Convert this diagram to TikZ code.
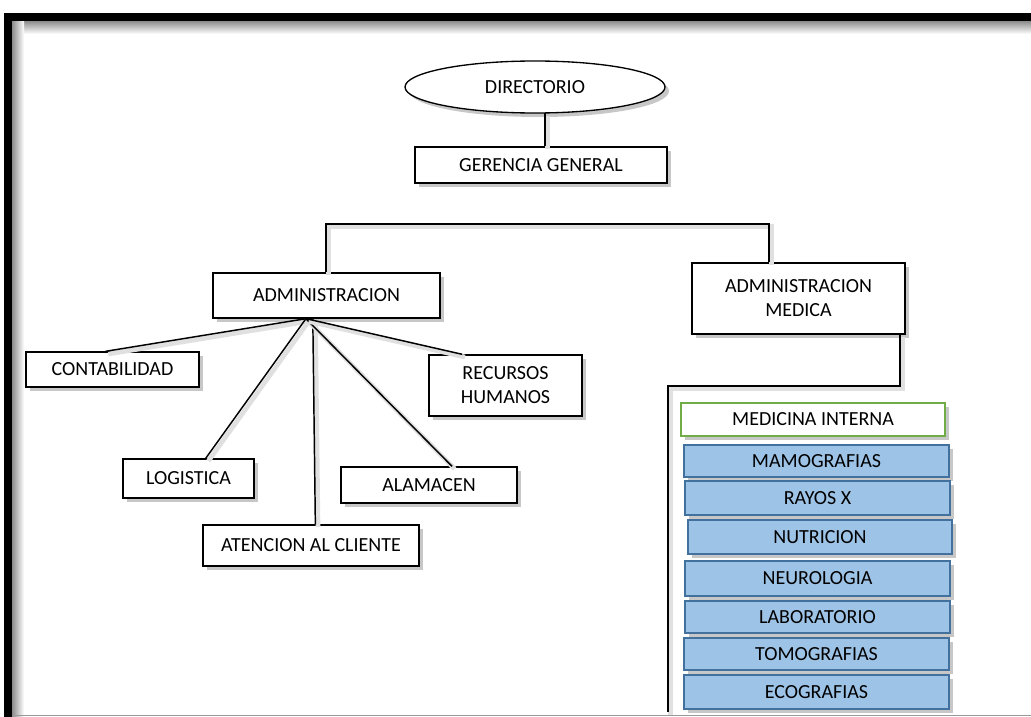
\documentclass[tikz,border=0pt]{standalone}
\usepackage{fontspec}
\setmainfont{Carlito}
\usetikzlibrary{shapes.geometric,shadows,calc}
\definecolor{boxblue}{RGB}{157,195,230}
\definecolor{boxblueline}{RGB}{65,113,156}
\definecolor{boxgreen}{RGB}{112,173,71}
\tikzset{
  bx/.style={draw=black, line width=1pt, fill=white, inner sep=0pt, align=center,
    font=\fontsize{15}{18}\selectfont,
    drop shadow={shadow xshift=3pt, shadow yshift=-3pt, fill=black, opacity=0.22}},
  bluebx/.style={bx, fill=boxblue, draw=boxblueline},
  greenbx/.style={bx, draw=boxgreen},
  conn/.style={line width=1.1pt,
    preaction={draw=black!12, line width=3.5pt, transform canvas={shift={(2pt,-2pt)}}}}
}
\begin{document}
\begin{tikzpicture}[x=0.75pt, y=-0.75pt]
\useasboundingbox (0,0) rectangle (1031,717);
% frame
\shade[top color=black!45, bottom color=white] (12,21) rectangle (1031,34);
\shade[left color=black!45, right color=white] (12,21) rectangle (24,717);
\fill[black] (4,13) rectangle (1031,21);
\fill[black] (4,13) rectangle (12,717);
\draw[black!40, line width=1.2pt] (12,715.5) -- (1031,715.5);

% nodes
\node[bx, ellipse, minimum width=195pt, minimum height=39pt] (dir) at (535,87) {DIRECTORIO};
\node[bx, minimum width=189pt, minimum height=27pt] (ger) at (541,165) {GERENCIA GENERAL};
\node[bx, minimum width=170.25pt, minimum height=33.75pt] (adm) at (326.5,295.5) {ADMINISTRACION};
\node[bx, minimum width=159.75pt, minimum height=53.25pt] (med) at (798.5,298.5) {ADMINISTRACION\\MEDICA};
\node[bx, minimum width=129.75pt, minimum height=26.25pt] (cont) at (112.5,369.5) {CONTABILIDAD};
\node[bx, minimum width=114.75pt, minimum height=45.75pt] (rrhh) at (505.5,385.5) {RECURSOS\\HUMANOS};
\node[bx, minimum width=98.25pt, minimum height=29.25pt] (log) at (188.5,478.5) {LOGISTICA};
\node[bx, minimum width=132pt, minimum height=27pt] (alm) at (429,485) {ALAMACEN};
\node[bx, minimum width=162pt, minimum height=30.75pt] (ate) at (311,545.5) {ATENCION AL CLIENTE};

\node[greenbx, minimum width=198pt, minimum height=24.75pt] (mi) at (813,419.5) {MEDICINA INTERNA};
\node[bluebx, minimum width=198.75pt, minimum height=24pt] (mam) at (816.5,461) {MAMOGRAFIAS};
\node[bluebx, minimum width=198.75pt, minimum height=25.5pt] (ray) at (817.5,498) {RAYOS X};
\node[bluebx, minimum width=198pt, minimum height=25.5pt] (nut) at (820,537) {NUTRICION};
\node[bluebx, minimum width=198.75pt, minimum height=26.25pt] (neu) at (817.5,578.5) {NEUROLOGIA};
\node[bluebx, minimum width=198.75pt, minimum height=24pt] (lab) at (817.5,617) {LABORATORIO};
\node[bluebx, minimum width=198.75pt, minimum height=24pt] (tom) at (816.5,654) {TOMOGRAFIAS};
\node[bluebx, minimum width=198.75pt, minimum height=25.5pt] (eco) at (816.5,692) {ECOGRAFIAS};

% connectors
\coordinate (dl) at (545,113);
\draw[conn] (dl) -- (dl |- ger.north);

\coordinate (topl) at (326,224);
\coordinate (topr) at (769,224);
\draw[conn] (adm.north -| topl) -- (topl) -- (topr) -- (topr |- med.north);

\coordinate (rc1) at (900,386);
\coordinate (rc2) at (668,386);
\coordinate (rc3) at (668,712);
\draw[conn] (med.south -| rc1) -- (rc1) -- (rc2) -- (rc3);

\coordinate (apex) at ($(adm.south west)!0.41!(adm.south east)$);
\coordinate (apex2) at ($(adm.south west)!0.44!(adm.south east)$);
\draw[conn] (apex) -- ($(cont.north west)!0.46!(cont.north east)$);
\draw[conn] (apex) -- ($(log.north west)!0.63!(log.north east)$);
\draw[conn] (apex2) -- ($(ate.north west)!0.52!(ate.north east)$);
\draw[conn] (apex) -- ($(alm.north west)!0.63!(alm.north east)$);
\draw[conn] (apex) -- ($(rrhh.north west)!0.22!(rrhh.north east)$);
\end{tikzpicture}
\end{document}
